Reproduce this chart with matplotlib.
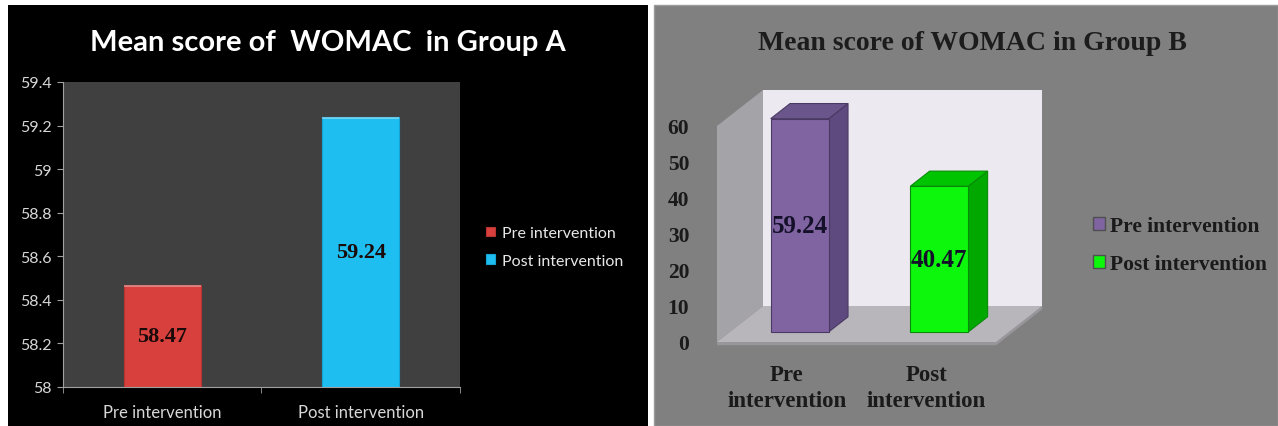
import numpy as np
import matplotlib
matplotlib.use("Agg")
import matplotlib.pyplot as plt
from matplotlib.patches import Rectangle, Polygon, Patch

# data
groups = ["Pre intervention", "Post intervention"]
group_a = [58.47, 59.24]
group_b = [59.24, 40.47]
a_ticks = [58, 58.2, 58.4, 58.6, 58.8, 59, 59.2, 59.4]
b_ticks = [0, 10, 20, 30, 40, 50, 60]
b_xlabels = ["Pre\nintervention", "Post\nintervention"]

W, H = 1278, 427
fig = plt.figure(figsize=(W / 100, H / 100), dpi=100, facecolor="white")


def box(x0, y0, x1, y1):
    # pixel box (top-left origin) -> figure fraction rect
    return [x0 / W, 1 - y1 / H, (x1 - x0) / W, (y1 - y0) / H]


# panel backgrounds
fig.add_artist(Rectangle((8 / W, 0), 640 / W, 421 / H, transform=fig.transFigure,
                         facecolor="black", edgecolor="none", zorder=0))
fig.add_artist(Rectangle((654 / W, 0), 624 / W, 421 / H, transform=fig.transFigure,
                         facecolor="#808080", edgecolor="#9a9a9a", lw=1, zorder=0))

# ---------------- Group A ----------------
sans = "Lato"
ax1 = fig.add_axes(box(63, 83, 460, 388))
ax1.set_facecolor("#404040")
cols_a = ["#d8403d", "#1fbef0"]
bars = ax1.bar(range(2), group_a, width=0.39, color=cols_a, edgecolor=["#b83532", "#15a5d6"],
               linewidth=0.8, zorder=2)
# light top rim on each bar
for i, v in enumerate(group_a):
    ax1.bar(i, 0.012, bottom=v - 0.012, width=0.39, color="white", alpha=0.35, zorder=3)
ax1.set_ylim(58, 59.4)
ax1.set_xlim(-0.5, 1.5)
ax1.set_yticks(a_ticks)
ax1.set_yticklabels(["%g" % t for t in a_ticks])
ax1.set_xticks([0, 1])
ax1.set_xticklabels(groups)
ax1.set_xticks([-0.5, 0.5, 1.5], minor=True)
ax1.tick_params(axis="x", which="major", length=0, pad=12)
ax1.tick_params(axis="x", which="minor", length=4, color="#a0a0a0")
ax1.tick_params(axis="y", length=4, color="#a0a0a0", pad=4)
for lab in ax1.get_yticklabels():
    lab.set_color("#d8d8d8")
    lab.set_fontfamily(sans)
    lab.set_fontsize(11.5)
for lab in ax1.get_xticklabels():
    lab.set_color("#d8d8d8")
    lab.set_fontfamily(sans)
    lab.set_fontsize(12)
for s in ["top", "right"]:
    ax1.spines[s].set_visible(False)
for s in ["left", "bottom"]:
    ax1.spines[s].set_color("#a0a0a0")
for i, v in enumerate(group_a):
    ax1.text(i, (58 + v) / 2, "%.2f" % v, ha="center", va="center", fontsize=16,
             fontweight="bold", family="Liberation Serif", color="#1a0a0a", zorder=4)
ax1.legend(bars, groups, loc="center left", bbox_to_anchor=(472 / W, 1 - 248 / H),
           bbox_transform=fig.transFigure, frameon=False, labelcolor="#e8e8e8",
           prop={"family": sans, "size": 11.5}, handlelength=0.55, handleheight=0.55,
           handletextpad=0.4, labelspacing=0.85)
fig.text(328 / W, 1 - 43 / H, "Mean score of  WOMAC  in Group A", ha="center", va="center",
         color="white", fontsize=21, fontweight="bold", family=sans)

# ---------------- Group B (pseudo 3D) ----------------
serif = "Liberation Serif"
ax2 = fig.add_axes(box(717, 73, 717 + 349, 350.2))
ax2.set_xlim(-0.5, 2.0)
ax2.set_ylim(-2, 75)
ax2.set_facecolor("none")
for s in ax2.spines.values():
    s.set_visible(False)

dx, dy = 0.33, 10.0      # full depth offset in data units
top = 60
# walls and floor
ax2.add_patch(Polygon([(-0.5, 0), (-0.5, top), (-0.5 + dx, top + dy), (-0.5 + dx, dy)],
                      closed=True, facecolor="#a4a3a8", edgecolor="none", zorder=1))
ax2.add_patch(Polygon([(-0.5 + dx, dy), (1.5 + dx, dy), (1.5 + dx, top + dy), (-0.5 + dx, top + dy)],
                      closed=True, facecolor="#ece9f0", edgecolor="none", zorder=1))
ax2.add_patch(Polygon([(-0.5, 0), (1.5, 0), (1.5 + dx, dy), (-0.5 + dx, dy)],
                      closed=True, facecolor="#b8b5bb", edgecolor="none", zorder=1))
ax2.add_patch(Polygon([(-0.5, -0.9), (1.5, -0.9), (1.5 + dx, dy - 0.9), (1.5 + dx, dy), (1.5, 0), (-0.5, 0)],
                      closed=True, facecolor="#98969b", edgecolor="none", zorder=0.9))

d0, d1 = 0.28, 0.70
bw = 0.415
faces = [("#8064a2", "#5e4a7e", "#6b568c", "#4a3a63"),
         ("#0cf70c", "#00a800", "#00c400", "#0a8a0a")]
for i, v in enumerate(group_b):
    front, side, topc, edge = faces[i]
    xl = i - bw / 2 + d0 * dx
    xr = i + bw / 2 + d0 * dx
    y0 = d0 * dy
    ox, oy = (d1 - d0) * dx, (d1 - d0) * dy
    ax2.add_patch(Polygon([(xr, y0), (xr + ox, y0 + oy), (xr + ox, y0 + oy + v), (xr, y0 + v)],
                          closed=True, facecolor=side, edgecolor=edge, lw=0.8, zorder=3))
    ax2.add_patch(Polygon([(xl, y0 + v), (xr, y0 + v), (xr + ox, y0 + v + oy), (xl + ox, y0 + v + oy)],
                          closed=True, facecolor=topc, edgecolor=edge, lw=0.8, zorder=3))
    ax2.add_patch(Rectangle((xl, y0), xr - xl, v, facecolor=front, edgecolor=edge, lw=0.8, zorder=4))
    ax2.text((xl + xr) / 2, y0 + v / 2, "%.2f" % v, ha="center", va="center", fontsize=18,
             fontweight="bold", family=serif, color="#14102a", zorder=5)

ax2.set_yticks(b_ticks)
ax2.set_yticklabels([str(t) for t in b_ticks])
ax2.set_xticks([0, 1])
ax2.set_xticklabels(b_xlabels)
ax2.tick_params(axis="y", length=0, pad=20)
ax2.tick_params(axis="x", length=0, pad=11)
for lab in ax2.get_yticklabels():
    lab.set_fontfamily(serif)
    lab.set_fontweight("bold")
    lab.set_fontsize(15.5)
    lab.set_color("#1a1a1a")
for lab in ax2.get_xticklabels():
    lab.set_fontfamily(serif)
    lab.set_fontweight("bold")
    lab.set_fontsize(16.5)
    lab.set_color("#1a1a1a")
    lab.set_linespacing(1.3)

handles = [Patch(facecolor=faces[0][0], edgecolor="#4f4f4f"),
           Patch(facecolor=faces[1][0], edgecolor="#4f4f4f")]
ax2.legend(handles, groups, loc="center left", bbox_to_anchor=(1074 / W, 1 - 246 / H),
           bbox_transform=fig.transFigure, frameon=False, labelcolor="#1a1a1a",
           prop={"family": serif, "weight": "bold", "size": 15.5}, handlelength=0.55,
           handleheight=0.55, handletextpad=0.2, labelspacing=0.85)
fig.text(972 / W, 1 - 43 / H, "Mean score of WOMAC in Group B", ha="center", va="center",
         color="#1c1c1c", fontsize=20, fontweight="bold", family=serif)

fig.savefig("out.png", dpi=100, facecolor=fig.get_facecolor())
